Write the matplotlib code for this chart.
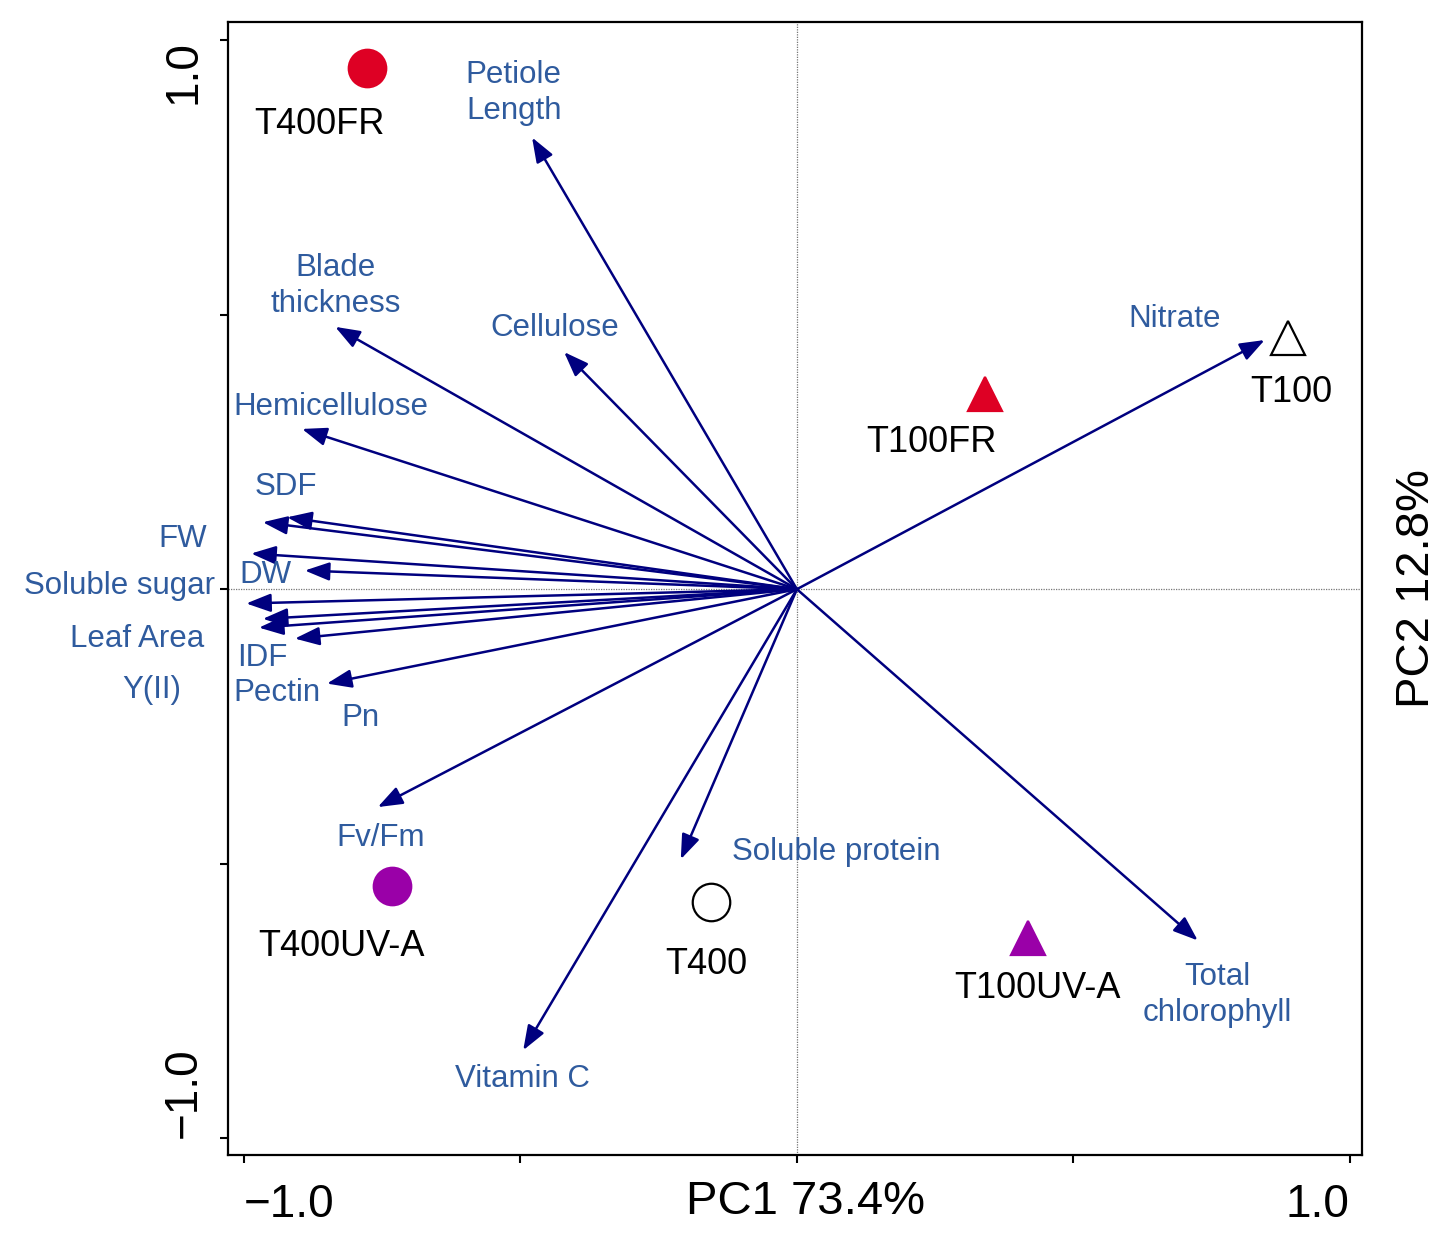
import matplotlib
matplotlib.use("Agg")
import matplotlib.pyplot as plt
from matplotlib.patches import FancyArrowPatch

plt.rcParams['font.family'] = ['Liberation Sans', 'DejaVu Sans']

# ---- data: variable loadings (PC1, PC2) ----
var_names = ["Petiole\nLength", "Blade\nthickness", "Cellulose", "Hemicellulose",
             "SDF", "FW", "Soluble sugar", "DW", "Leaf Area", "IDF", "Y(II)",
             "Pectin", "Pn", "Fv/Fm", "Soluble protein", "Vitamin C",
             "Total\nchlorophyll", "Nitrate"]
var_pc1 = [-0.479, -0.835, -0.421, -0.895, -0.922, -0.966, -0.987, -0.890, -0.996,
           -0.966, -0.973, -0.908, -0.850, -0.758, -0.210, -0.495, 0.725, 0.846]
var_pc2 = [0.823, 0.478, 0.432, 0.292, 0.131, 0.122, 0.065, 0.034, -0.026,
           -0.054, -0.070, -0.090, -0.172, -0.397, -0.492, -0.840, -0.640, 0.454]

# ---- data: treatment scores ----
trt_names = ["T400FR", "T100FR", "T100", "T400UV-A", "T400", "T100UV-A"]
trt_pc1 = [-0.778, 0.340, 0.888, -0.732, -0.156, 0.418]
trt_pc2 = [0.949, 0.356, 0.458, -0.540, -0.570, -0.635]

x_title = "PC1 73.4%"
y_title = "PC2 12.8%"
tick_vals = [-1.0, -0.5, 0.0, 0.5, 1.0]
tick_labels = ['\u22121.0', '', '', '', '1.0']

# ---- layout (label positions, styles) ----
var_label_pos = {
    "Petiole\nLength": (-0.512, 0.904, 'center'),
    "Blade\nthickness": (-0.834, 0.552, 'center'),
    "Cellulose": (-0.438, 0.476, 'center'),
    "Hemicellulose": (-0.843, 0.332, 'center'),
    "SDF": (-0.924, 0.187, 'center'),
    "FW": (-1.110, 0.092, 'center'),
    "Soluble sugar": (-1.052, 0.005, 'right'),
    "DW": (-0.962, 0.026, 'center'),
    "Leaf Area": (-1.072, -0.090, 'right'),
    "IDF": (-0.967, -0.125, 'center'),
    "Y(II)": (-1.166, -0.183, 'center'),
    "Pectin": (-0.940, -0.190, 'center'),
    "Pn": (-0.790, -0.234, 'center'),
    "Fv/Fm": (-0.752, -0.454, 'center'),
    "Soluble protein": (0.072, -0.478, 'center'),
    "Vitamin C": (-0.497, -0.893, 'center'),
    "Total\nchlorophyll": (0.760, -0.740, 'center'),
    "Nitrate": (0.684, 0.492, 'center'),
}
trt_label_pos = [(-0.863, 0.847), (0.244, 0.267), (0.895, 0.358),
                 (-0.823, -0.651), (-0.163, -0.683), (0.436, -0.727)]
trt_marker = ['o', '^', '^', 'o', 'o', '^']
trt_face = ['#DE0024', '#DE0024', 'white', '#9A00A8', 'white', '#9A00A8']
trt_edge = ['#DE0024', '#DE0024', 'black', '#9A00A8', 'black', '#9A00A8']

arrow_col = '#00007F'
label_col = '#2F5B9E'

fig = plt.figure(figsize=(14.52, 12.36), dpi=100)
ax = fig.add_axes([0.157, 0.0655, 0.781, 0.9165])
ax.set_xlim(-1.029, 1.022)
ax.set_ylim(-1.031, 1.033)

ax.axhline(0, color='#777777', lw=0.9, ls=(0, (1, 1)), zorder=1)
ax.axvline(0, color='#777777', lw=0.9, ls=(0, (1, 1)), zorder=1)

for name, x, y in zip(var_names, var_pc1, var_pc2):
    arr = FancyArrowPatch((0, 0), (x, y),
                          arrowstyle='-|>,head_length=0.75,head_width=0.28',
                          mutation_scale=20, shrinkA=0, shrinkB=0,
                          color=arrow_col, lw=1.8, zorder=3)
    ax.add_patch(arr)
    lx, ly, ha = var_label_pos[name]
    ax.text(lx, ly, name, color=label_col, fontsize=22.5, ha=ha, va='center',
            linespacing=1.25, clip_on=False, zorder=4)

for i, name in enumerate(trt_names):
    ms = 27 if trt_marker[i] == 'o' else 24
    ax.plot(trt_pc1[i], trt_pc2[i], marker=trt_marker[i], ms=ms,
            mfc=trt_face[i], mec=trt_edge[i], mew=1.6, ls='none', zorder=5)
    lx, ly = trt_label_pos[i]
    ax.text(lx, ly, name, color='black', fontsize=26, ha='center', va='center', zorder=6)

for s in ax.spines.values():
    s.set_linewidth(1.6)

ax.set_xticks(tick_vals)
ax.set_yticks(tick_vals)
ax.set_xticklabels(tick_labels)
ax.set_yticklabels(tick_labels, rotation=90)
ax.tick_params(direction='out', length=6, width=1.5, labelsize=33, pad=14)
ax.tick_params(axis='y', pad=10)
xl = ax.get_xticklabels()
xl[0].set_ha('left')
xl[-1].set_ha('right')
yl = ax.get_yticklabels()
yl[0].set_va('bottom')
yl[-1].set_va('top')

ax.annotate(x_title, xy=(0.016, 0), xycoords=('data', 'axes fraction'),
            xytext=(0, -18), textcoords='offset points',
            fontsize=34, ha='center', va='top', annotation_clip=False)

ax.text(1.029, 0.5, y_title, fontsize=34, rotation=90, ha='left', va='center',
        transform=ax.transAxes)

fig.savefig('out.png', dpi=100, facecolor='white')
